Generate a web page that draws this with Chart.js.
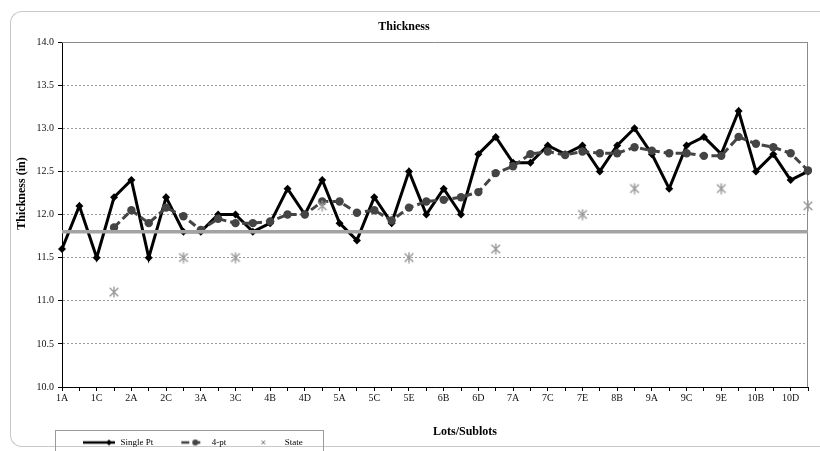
<!DOCTYPE html>
<html>
<head>
<meta charset="utf-8">
<title>Thickness</title>
<script src="https://cdn.jsdelivr.net/npm/chart.js@4.4.1/dist/chart.umd.min.js"></script>
<style>
  body { margin: 0; background: #fff; overflow: hidden; }
  .wrap { position: relative; width: 820px; height: 451px; overflow: hidden; }
  .frame {
    position: absolute; left: 10px; top: 11px; width: 810px; height: 436px;
    border: 1.5px solid #c8c8c8; border-right: none;
    border-radius: 12px 0 0 12px; box-sizing: border-box;
  }
  canvas { position: absolute; left: 0; top: 0; }
</style>
</head>
<body>
<div class="wrap">
  <div class="frame"></div>
  <canvas id="chart"></canvas>
</div>
<script>
// lots / sublots along the x axis
const sublots = ['1A', '1B', '1C', '1D', '2A', '2B', '2C', '2D', '3A', '3B', '3C',
  '4A', '4B', '4C', '4D', '4E', '5A', '5B', '5C', '5D', '5E',
  '6A', '6B', '6C', '6D', '6E', '7A', '7B', '7C', '7D', '7E',
  '8A', '8B', '8C', '9A', '9B', '9C', '9D', '9E',
  '10A', '10B', '10C', '10D', '10E'];

const singlePt = [11.6, 12.1, 11.5, 12.2, 12.4, 11.5, 12.2, 11.8, 11.8, 12.0, 12.0,
  11.8, 11.9, 12.3, 12.0, 12.4, 11.9, 11.7, 12.2, 11.9, 12.5,
  12.0, 12.3, 12.0, 12.7, 12.9, 12.6, 12.6, 12.8, 12.7, 12.8,
  12.5, 12.8, 13.0, 12.7, 12.3, 12.8, 12.9, 12.7,
  13.2, 12.5, 12.7, 12.4, 12.5];

const fourPt = [null, null, null, 11.85, 12.05, 11.9, 12.08, 11.98, 11.82, 11.95, 11.9,
  11.9, 11.92, 12.0, 12.0, 12.15, 12.15, 12.02, 12.05, 11.93, 12.08,
  12.15, 12.17, 12.2, 12.26, 12.48, 12.56, 12.7, 12.73, 12.69, 12.73,
  12.71, 12.71, 12.78, 12.74, 12.71, 12.71, 12.68, 12.68,
  12.9, 12.82, 12.78, 12.71, 12.51];

const stateLots = ['1D', '2D', '3C', '4E', '5E', '6E', '7E', '8C', '9E', '10E'];
const stateValues = [11.1, 11.5, 11.5, 12.1, 11.5, 11.6, 12.0, 12.3, 12.3, 12.1];

const specLimit = 11.8;
const legendNames = ['Single Pt', '4-pt', 'State'];

const serif = "'Liberation Serif', 'Times New Roman', serif";
// en spaces push the axis titles off-centre the way Excel placed them
const pad = (n) => '\u2002'.repeat(n);

// asterisk marker like the Excel one
const makeStar = (size, color, width) => {
  const c = document.createElement('canvas');
  c.width = size; c.height = size;
  const g = c.getContext('2d');
  const m = size / 2, d = size * 0.36;
  g.strokeStyle = color; g.lineWidth = width;
  g.beginPath();
  g.moveTo(m - d, m - d); g.lineTo(m + d, m + d);
  g.moveTo(m + d, m - d); g.lineTo(m - d, m + d);
  g.moveTo(m, 0.5); g.lineTo(m, size - 0.5);
  g.stroke();
  return c;
};

// little line + marker samples for the legend
const makeIcon = (kind) => {
  const c = document.createElement('canvas');
  c.width = 34; c.height = 10;
  const g = c.getContext('2d');
  if (kind === 'single') {
    g.strokeStyle = '#000'; g.lineWidth = 2.5;
    g.beginPath(); g.moveTo(1, 5); g.lineTo(33, 5); g.stroke();
    g.fillStyle = '#000';
    g.beginPath(); g.moveTo(27, 2); g.lineTo(30, 5); g.lineTo(27, 8); g.lineTo(24, 5); g.fill();
  } else if (kind === 'four') {
    g.strokeStyle = '#444'; g.lineWidth = 2.5;
    g.beginPath(); g.moveTo(8, 5); g.lineTo(16, 5); g.moveTo(22, 5); g.lineTo(27, 5); g.stroke();
    g.fillStyle = '#444';
    g.beginPath(); g.arc(22, 5, 3, 0, Math.PI * 2); g.fill();
  } else {
    g.strokeStyle = '#777'; g.lineWidth = 1;
    g.beginPath();
    g.moveTo(15, 3); g.lineTo(19, 7); g.moveTo(19, 3); g.lineTo(15, 7);
    g.stroke();
  }
  return c;
};
const legendIcons = [makeIcon('single'), makeIcon('four'), makeIcon('state')];

const plotFrame = {
  id: 'plotFrame',
  beforeDatasetsDraw(chart) {
    const { ctx, chartArea: a } = chart;
    ctx.save();
    ctx.strokeStyle = '#8a8a8a';
    ctx.lineWidth = 1;
    ctx.beginPath();
    ctx.moveTo(a.left, a.top + 0.5);
    ctx.lineTo(a.right - 0.5, a.top + 0.5);
    ctx.lineTo(a.right - 0.5, a.bottom);
    ctx.stroke();
    ctx.restore();
  },
  afterDraw(chart) {
    const { ctx, legend } = chart;
    ctx.save();
    ctx.strokeStyle = '#9a9a9a';
    ctx.lineWidth = 1;
    ctx.strokeRect(legend.left - 6.5, legend.top + 12.5, 268, 40);
    ctx.restore();
  }
};

new Chart(document.getElementById('chart'), {
  type: 'line',
  data: {
    labels: sublots,
    datasets: [
      {
        label: 'Single Pt',
        data: singlePt,
        borderColor: '#000',
        backgroundColor: '#000',
        borderWidth: 3,
        pointStyle: 'rectRot',
        pointRadius: 4,
        pointBorderWidth: 0,
        tension: 0,
        order: 3,
      },
      {
        label: '4-pt',
        data: fourPt,
        borderColor: '#444',
        backgroundColor: '#444',
        borderWidth: 3,
        borderDash: [8, 4],
        pointStyle: 'circle',
        pointRadius: 4.2,
        pointBorderWidth: 0,
        tension: 0,
        order: 2,
      },
      {
        label: 'State',
        data: stateLots.map((lot, i) => ({ x: lot, y: stateValues[i] })),
        showLine: false,
        pointStyle: makeStar(12, '#999', 1.4),
        order: 1,
      },
      {
        label: 'Spec',
        data: [{ x: sublots[0], y: specLimit }, { x: sublots[sublots.length - 1], y: specLimit }],
        borderColor: '#a3a3a3',
        borderWidth: 3.5,
        pointRadius: 0,
        order: 0,
      },
    ],
  },
  options: {
    responsive: true,
    maintainAspectRatio: false,
    animation: false,
    layout: { padding: { left: 0, right: 12, top: 0, bottom: -6 } },
    plugins: {
      tooltip: { enabled: false },
      title: {
        display: true,
        text: 'Thickness',
        color: '#000',
        font: { family: serif, size: 12, weight: 'bold' },
        padding: { top: 20, bottom: 7.6 },
      },
      legend: {
        position: 'bottom',
        align: 'start',
        fullSize: false,
        labels: {
          usePointStyle: true,
          pointStyleWidth: 34,
          padding: 20,
          color: '#000',
          font: { family: serif, size: 9 },
          generateLabels: () => legendNames.map((name, i) => ({
            text: name,
            pointStyle: legendIcons[i],
            fillStyle: 'transparent',
            strokeStyle: 'transparent',
            lineWidth: 0,
            hidden: false,
            datasetIndex: i,
          })),
        },
      },
    },
    scales: {
      x: {
        offset: false,
        grid: { drawOnChartArea: false, drawTicks: true, tickLength: 4, tickColor: '#000' },
        border: { color: '#000', width: 1 },
        ticks: {
          autoSkip: false,
          maxRotation: 0,
          padding: 1,
          color: '#111',
          font: { family: serif, size: 10 },
          callback: function (value, index) {
            return index % 2 === 0 ? this.getLabelForValue(value) : '';
          },
        },
        title: {
          display: true,
          text: pad(10) + 'Lots/Sublots',
          color: '#000',
          font: { family: serif, size: 12, weight: 'bold' },
          padding: { top: 19.8, bottom: -21.2 },
        },
      },
      y: {
        min: 10,
        max: 14,
        afterFit: (scale) => { scale.width = 62; },
        grid: { color: '#9a9a9a', lineWidth: 1, tickLength: 4, tickColor: '#000', tickBorderDash: [] },
        border: { color: '#000', width: 1, dash: [2, 2] },
        ticks: {
          stepSize: 0.5,
          padding: 4,
          color: '#111',
          font: { family: serif, size: 10 },
          callback: (v) => v.toFixed(1),
        },
        title: {
          display: true,
          text: pad(7) + 'Thickness (in)',
          color: '#000',
          font: { family: serif, size: 12, weight: 'bold' },
          padding: { top: 15, bottom: 0 },
        },
      },
    },
  },
  plugins: [plotFrame],
});
</script>
</body>
</html>
